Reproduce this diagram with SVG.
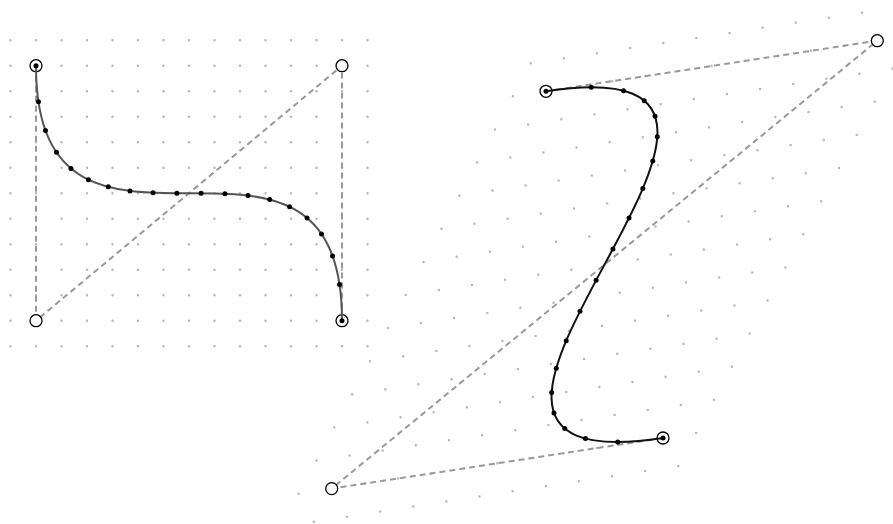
<svg xmlns="http://www.w3.org/2000/svg" width="893" height="524" viewBox="0 0 893 524">
<style>
.grid{fill:none;stroke:#b8b8b8;stroke-width:2.5;stroke-linecap:round}
.gl{stroke-dasharray:0 25.5}
.gr{stroke-dasharray:0 37.617}
.ctl{fill:none;stroke:#999;stroke-width:2;stroke-dasharray:6 4}
.cp{fill:#fff;stroke:#000;stroke-width:1.3}
.curveL{fill:none;stroke:#555;stroke-width:2}
.curveR{fill:none;stroke:#111;stroke-width:2}
.pt{fill:#000}
</style>
<rect width="893" height="524" fill="#fff"/>
<g id="left-grid" class="grid gl">
<path d="M10.5 40.2H368M10.5 65.7H368M10.5 91.2H368M10.5 116.7H368M10.5 142.2H368M10.5 167.7H368M10.5 193.2H368M10.5 218.7H368M10.5 244.2H368M10.5 269.7H368M10.5 295.2H368M10.5 320.7H368M10.5 346.2H368"/>
</g>
<g id="right-grid" class="grid gr">
<path d="M530.73 63.25l-250.39 464.21M563.86 58.19l-250.39 464.21M596.99 53.13l-250.39 464.21M630.12 48.07l-250.39 464.21M663.25 43.01l-250.39 464.21M696.38 37.95l-250.39 464.21M729.51 32.89l-250.39 464.21M762.64 27.83l-250.39 464.21M795.77 22.77l-250.39 464.21M828.9 17.71l-250.39 464.21M862.03 12.65l-250.39 464.21M895.16 7.59l-250.39 464.21M928.29 2.53l-250.39 464.21"/>
</g>
<g id="connectors">
<path class="ctl" d="M36 65.7V320.7L342 65.7V320.7"/>
<path class="ctl" d="M546 91.3L877.3 40.7L331.7 488.6L663 438"/>
</g>
<g id="left-control-points">
<circle id="L-P0" class="cp" cx="36" cy="65.7" r="6"/>
<circle id="L-P1" class="cp" cx="36" cy="320.7" r="6"/>
<circle id="L-P2" class="cp" cx="342" cy="65.7" r="6"/>
<circle id="L-P3" class="cp" cx="342" cy="320.7" r="6"/>
</g>
<g id="right-control-points">
<circle id="R-P0" class="cp" cx="546" cy="91.3" r="6"/>
<circle id="R-P1" class="cp" cx="877.3" cy="40.7" r="6"/>
<circle id="R-P2" class="cp" cx="331.7" cy="488.6" r="6"/>
<circle id="R-P3" class="cp" cx="663" cy="438" r="6"/>
</g>
<g id="left-curve">
<path class="curveL" d="M36 65.7C36 320.7 342 65.7 342 320.7"/>
<g class="pt">
<circle cx="36" cy="65.7" r="2.5"/>
<circle cx="38.45" cy="101.87" r="2.5"/>
<circle cx="45.46" cy="130.46" r="2.5"/>
<circle cx="56.48" cy="152.36" r="2.5"/>
<circle cx="70.98" cy="168.46" r="2.5"/>
<circle cx="88.42" cy="179.65" r="2.5"/>
<circle cx="108.27" cy="186.82" r="2.5"/>
<circle cx="130" cy="190.88" r="2.5"/>
<circle cx="153.06" cy="192.7" r="2.5"/>
<circle cx="176.93" cy="193.18" r="2.5"/>
<circle cx="201.07" cy="193.22" r="2.5"/>
<circle cx="224.94" cy="193.7" r="2.5"/>
<circle cx="248" cy="195.52" r="2.5"/>
<circle cx="269.73" cy="199.58" r="2.5"/>
<circle cx="289.58" cy="206.75" r="2.5"/>
<circle cx="307.02" cy="217.94" r="2.5"/>
<circle cx="321.52" cy="234.04" r="2.5"/>
<circle cx="332.54" cy="255.94" r="2.5"/>
<circle cx="339.55" cy="284.53" r="2.5"/>
<circle cx="342" cy="320.7" r="2.5"/>
</g>
</g>
<g id="right-curve">
<path class="curveR" d="M546 91.3C877.3 40.7 331.7 488.6 663 438"/>
<g class="pt">
<circle cx="546" cy="91.3" r="2.5"/>
<circle cx="591.28" cy="87.31" r="2.5"/>
<circle cx="623.52" cy="90.73" r="2.5"/>
<circle cx="644.25" cy="100.69" r="2.5"/>
<circle cx="655.01" cy="116.32" r="2.5"/>
<circle cx="657.33" cy="136.75" r="2.5"/>
<circle cx="652.75" cy="161.1" r="2.5"/>
<circle cx="642.8" cy="188.51" r="2.5"/>
<circle cx="629.02" cy="218.09" r="2.5"/>
<circle cx="612.93" cy="248.99" r="2.5"/>
<circle cx="596.07" cy="280.31" r="2.5"/>
<circle cx="580" cy="311.21" r="2.5"/>
<circle cx="566.2" cy="340.79" r="2.5"/>
<circle cx="556.25" cy="368.2" r="2.5"/>
<circle cx="551.67" cy="392.55" r="2.5"/>
<circle cx="553.99" cy="412.98" r="2.5"/>
<circle cx="564.75" cy="428.61" r="2.5"/>
<circle cx="585.48" cy="438.57" r="2.5"/>
<circle cx="617.72" cy="441.99" r="2.5"/>
<circle cx="663" cy="438" r="2.5"/>
</g>
</g>
</svg>
